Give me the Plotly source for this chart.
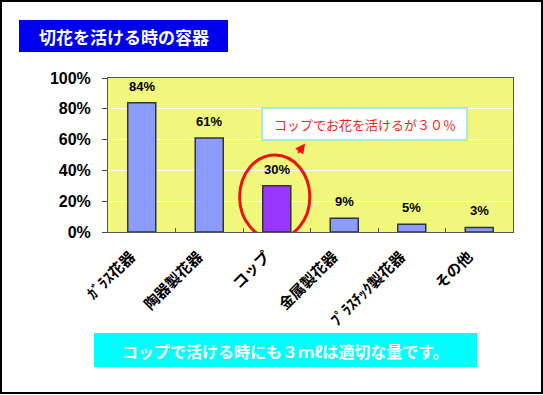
import plotly.graph_objects as go

categories = ["ｶﾞﾗｽ花器", "陶器製花器", "コップ", "金属製花器", "ﾌﾟﾗｽﾁｯｸ製花器", "その他"]
values = [84, 61, 30, 9, 5, 3]
highlight = "コップ"
title_text = "切花を活ける時の容器"
callout_text = "コップでお花を活けるが３０％"
footer_text = "コップで活ける時にも３ｍℓは適切な量です。"
y_ticks = [0, 20, 40, 60, 80, 100]
y_tick_labels = ["0%", "20%", "40%", "60%", "80%", "100%"]

W, H = 543, 395
L, R, T, B = 108, 30, 78, 163
PW, PH = W - L - R, H - T - B


def px(x):
    return (x - L) / PW


def py(y):
    return (H - B - y) / PH


BLUE = "#8C9BFF"
PURPLE = "#9A36FF"
colors = [PURPLE if c == highlight else BLUE for c in categories]

fig = go.Figure()
fig.add_trace(go.Bar(
    x=categories, y=values, width=0.415,
    marker=dict(color=colors, line=dict(color="#333333", width=1.5)),
    hoverinfo="skip",
))

annotations = []
for c, v in zip(categories, values):
    annotations.append(dict(
        x=c, y=v, xref="x", yref="y", text=f"{v}%", showarrow=False,
        xanchor="center", yanchor="bottom", yshift=7,
        font=dict(family="Liberation Sans, Arial", size=13, color="black", weight="bold"),
    ))

hi = categories.index(highlight)
hv = values[hi]

shapes = [
    dict(type="rect", xref="paper", yref="paper", x0=px(19), x1=px(228), y0=py(52), y1=py(20),
         fillcolor="#0000F0", line=dict(width=0), layer="above"),
    dict(type="rect", xref="paper", yref="paper", x0=px(262), x1=px(467), y0=py(140), y1=py(108),
         fillcolor="white", line=dict(color="#8EE6EA", width=1.5), layer="above"),
    dict(type="rect", xref="paper", yref="paper", x0=px(94), x1=px(477), y0=py(367), y1=py(333),
         fillcolor="#00FFFF", line=dict(width=0), layer="above"),
    dict(type="circle", xref="x", yref="y", x0=hi - 0.55, x1=hi + 0.49, y0=-4.5, y1=hv + 20,
         line=dict(color="#EE1111", width=3), layer="above"),
    dict(type="rect", xref="paper", yref="paper", x0=px(1), x1=px(542), y0=py(393), y1=py(1),
         line=dict(color="black", width=2), layer="above"),
]

annotations += [
    dict(xref="paper", yref="paper", x=px(123.5), y=py(36.5), text=title_text, showarrow=False,
         xanchor="center", yanchor="middle",
         font=dict(family="Noto Sans CJK JP", size=17, color="white", weight="bold")),
    dict(xref="paper", yref="paper", x=px(364.5), y=py(124), text=callout_text, showarrow=False,
         xanchor="center", yanchor="middle",
         font=dict(family="Noto Sans CJK JP", size=13, color="#FF2222")),
    dict(xref="paper", yref="paper", x=px(285.5), y=py(350.5), text=footer_text, showarrow=False,
         xanchor="center", yanchor="middle",
         font=dict(family="Noto Sans CJK JP", size=16, color="white", weight="bold")),
    dict(xref="x", yref="y", x=hi + 0.42, y=hv + 27.5, ax=-8, ay=11, text="", showarrow=True,
         arrowhead=2, arrowsize=1, arrowwidth=2, arrowcolor="#EE1111"),
]

fig.update_layout(
    width=W, height=H,
    margin=dict(l=L, r=R, t=T, b=B, autoexpand=False),
    paper_bgcolor="white", plot_bgcolor="#F1F77C",
    showlegend=False,
    shapes=shapes, annotations=annotations,
)
fig.update_xaxes(
    type="category", tickangle=-45, ticks="inside", tickson="boundaries", ticklen=4,
    tickcolor="#555555", showline=True, linecolor="#555555", linewidth=1, mirror=True,
    tickfont=dict(family="Noto Sans CJK JP", size=15, color="black", weight="bold"),
    ticklabelshift=-11, ticklabelstandoff=9,
    showgrid=False,
)
fig.update_yaxes(
    range=[0, 100], tickvals=y_ticks, ticktext=y_tick_labels, ticks="outside", ticklen=5,
    tickcolor="#444444", showline=True, linecolor="#555555", linewidth=1, mirror=True,
    gridcolor="white", gridwidth=1, zeroline=False, ticklabelstandoff=8,
    tickfont=dict(family="Liberation Sans, Arial", size=16, color="black", weight="bold"),
)

fig.write_html(
    "out.html",
    config={"displayModeBar": False},
    post_script="document.body.style.margin='0';document.body.style.overflow='hidden';",
)
